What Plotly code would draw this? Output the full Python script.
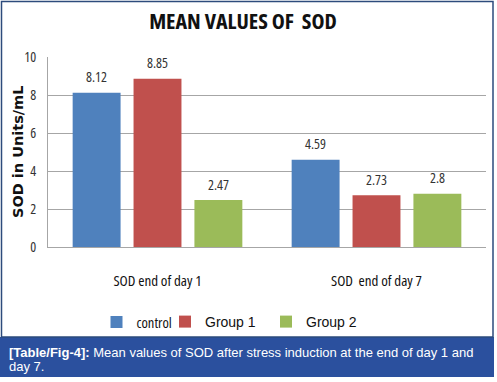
import plotly.graph_objects as go

categories = ["SOD end of day 1", "SOD  end of day 7"]
series_names = ["control", "Group 1", "Group 2"]
control = [8.12, 4.59]
group1 = [8.85, 2.73]
group2 = [2.47, 2.8]
series_values = [control, group1, group2]
value_labels = [["8.12", "4.59"], ["8.85", "2.73"], ["2.47", "2.8"]]
y_ticks = [0, 2, 4, 6, 8, 10]

colors = ["#4f81bd", "#c0504d", "#9bbb59"]

W, H = 497, 382
L, R, T, B = 48, 486, 57, 247


def px(x):
    return (x - L) / (R - L)


def py(y):
    return (B - y) / (B - T)


def narrow(t, stretch="75%"):
    return f"<span style='font-family:Open Sans;font-stretch:{stretch}'>{t}</span>"


fig = go.Figure()
legend_names = [narrow("control"), "Group 1", "Group 2"]
legend_ids = ["legend", "legend2", "legend3"]
for name, lname, vals, col, lid in zip(series_names, legend_names, series_values, colors, legend_ids):
    fig.add_trace(go.Bar(x=categories, y=vals, name=lname, marker_color=col,
                         marker_line_width=0, legend=lid))

annotations = []
offsets = [-61, 0, 61]
for vals, labs, off in zip(series_values, value_labels, offsets):
    for c, v, t in zip(categories, vals, labs):
        annotations.append(dict(x=c, y=v, text=narrow(t), xshift=off, yshift=16,
                                showarrow=False, yanchor="middle",
                                font=dict(family="Open Sans", size=14, color="#333333")))

cap_font = dict(family="Liberation Sans, Arial, sans-serif", size=13, color="white")
annotations.append(dict(
    xref="paper", yref="paper", x=px(7), y=py(352), xanchor="left", yanchor="middle",
    align="left", showarrow=False,
    text="<b>[Table/Fig-4]:</b> Mean values of SOD after stress induction at the end of day 1 and",
    font=cap_font))
annotations.append(dict(
    xref="paper", yref="paper", x=px(7), y=py(366), xanchor="left", yanchor="middle",
    align="left", showarrow=False, text="day 7.", font=cap_font))

annotations.append(dict(
    xref="paper", yref="paper", x=px(18), y=py(152), xanchor="center", yanchor="middle",
    textangle=-90, showarrow=False, text="<b>SOD in Units/mL</b>",
    font=dict(family="DejaVu Sans, sans-serif", size=14.5, color="#111111")))

shapes = [
    dict(type="rect", xref="paper", yref="paper", x0=px(0), x1=px(494), y0=py(377), y1=py(337),
         fillcolor="#2b509e", line_width=0, layer="below"),
    dict(type="rect", xref="paper", yref="paper", x0=px(1.5), x1=px(493), y0=py(337), y1=py(1.5),
         fillcolor="rgba(0,0,0,0)", line=dict(color="#2d4b7c", width=1.5), layer="below"),
]

leg_font = dict(family="Liberation Sans, Arial, sans-serif", size=14, color="#111111")
leg_common = dict(orientation="h", yanchor="middle", y=py(322), xanchor="left",
                  font=leg_font, bgcolor="rgba(0,0,0,0)", borderwidth=0)
leg_font_c = dict(family="Open Sans", size=14.5, color="#111111")

fig.update_layout(
    width=W, height=H,
    margin=dict(l=L, r=W - R, t=T, b=H - B),
    paper_bgcolor="white", plot_bgcolor="white",
    barmode="group", bargap=0.166, bargroupgap=0.213,
    title=dict(text=narrow("<b>MEAN VALUES OF  SOD</b>"), x=243 / W, xanchor="center",
               yref="container", y=1 - 21 / H, yanchor="middle",
               font=dict(family="Open Sans", size=22, color="#111111")),
    showlegend=True,
    legend=dict(leg_common, x=px(96.5), font=leg_font_c),
    legend2=dict(leg_common, x=px(165)),
    legend3=dict(leg_common, x=px(266)),
    annotations=annotations,
    shapes=shapes,
)
fig.update_yaxes(range=[0, 10], tickvals=y_ticks, ticktext=[narrow(str(v)) for v in y_ticks],
                 showgrid=True, gridcolor="#a6a6a6", gridwidth=1,
                 showline=True, linecolor="#a6a6a6", linewidth=1, zeroline=False,
                 ticks="outside", ticklen=8, tickcolor="rgba(0,0,0,0)",
                 tickfont=dict(family="Open Sans", size=14, color="#333333"))
fig.update_xaxes(tickvals=categories, ticktext=[narrow(c) for c in categories],
                 showline=True, linecolor="#a6a6a6", linewidth=1, ticks="outside", ticklen=20,
                 tickcolor="rgba(0,0,0,0)",
                 tickfont=dict(family="Open Sans", size=15, color="#111111"))

fig.write_html("out.html", config={"displayModeBar": False},
               post_script="document.body.style.margin='0';")
